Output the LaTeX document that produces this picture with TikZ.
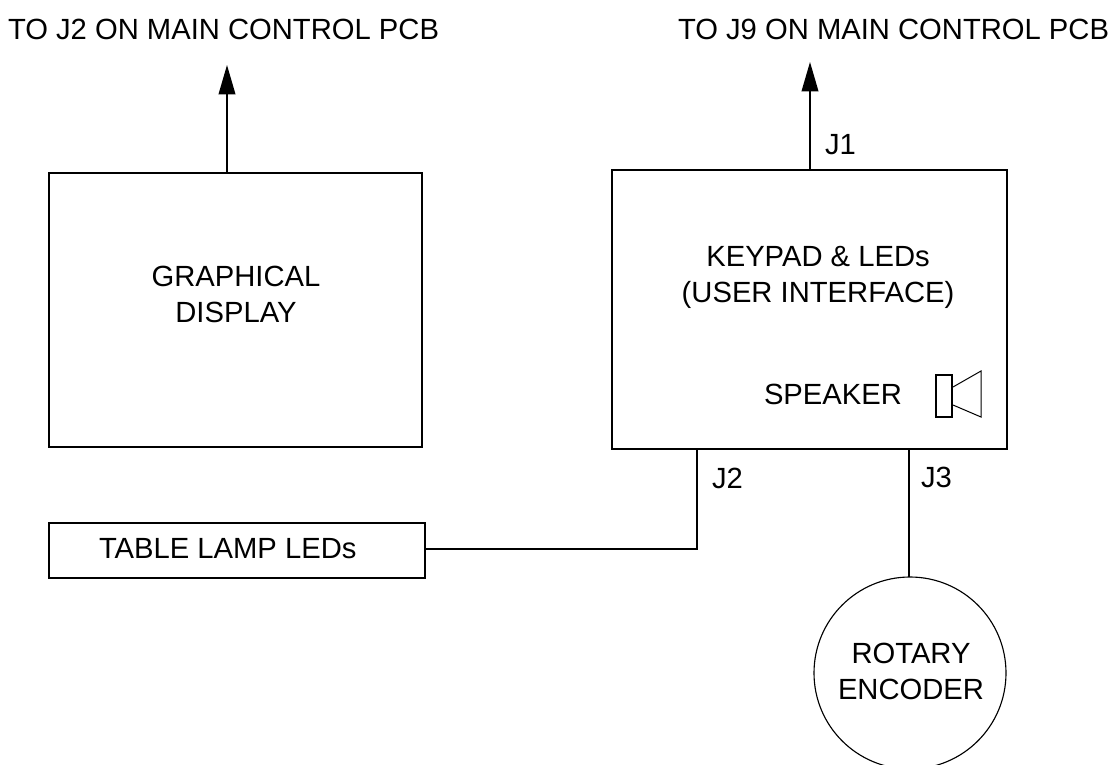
\documentclass[tikz,border=0pt]{standalone}
\usepackage{fontspec}
\setmainfont{Liberation Sans}
\usetikzlibrary{arrows.meta,calc}
\tikzset{
  px/.style={x=0.75pt,y=-0.75pt},
  box/.style={draw=black,line width=1.05pt,rectangle,inner sep=0pt,outer sep=0pt},
  disc/.style={draw=black,line width=0.85pt,circle,inner sep=0pt,outer sep=0pt,minimum size=144pt},
  wire/.style={draw=black,line width=1.2pt},
  lbl/.style={inner sep=0pt,outer sep=0pt,font=\fontsize{21.9pt}{27pt}\selectfont,align=center,text=black},
  arrowwire/.style={wire,-{Triangle[length=22pt,width=12.5pt]}},
  spk/.style={draw=black,line width=0.75pt}
}
\begin{document}
\begin{tikzpicture}[px]
\path[use as bounding box,clip] (0,0) rectangle (1110,764);
\node[box,minimum width=279.75pt,minimum height=205.5pt] (disp) at (235.5,310) {};
\node[box,minimum width=296.25pt,minimum height=209.25pt] (keys) at (809.5,309.5) {};
\node[box,minimum width=282pt,minimum height=41.25pt] (lamp) at (237,550.5) {};
\node[disc] (enc) at (910,673) {};
\coordinate (toa) at (227,65);
\coordinate (tob) at (810,62);
\coordinate (j2t) at (697,449);
\coordinate (j3t) at (909,449);
\coordinate (lout) at (425,549);
\node[lbl,anchor=west] (ta) at (8,29) {TO J2 ON MAIN CONTROL PCB};
\node[lbl,anchor=west] (tb) at (678,29) {TO J9 ON MAIN CONTROL PCB};
\node[lbl] (tdisp) at (236,294) {GRAPHICAL\\DISPLAY};
\node[lbl] (tkeys) at (818,277) {KEYPAD \& LEDs\\(USER INTERFACE)};
\node[lbl,anchor=west] (tspk) at (764,394) {SPEAKER};
\node[lbl,anchor=west] (tlamp) at (99,549) {TABLE LAMP LEDs};
\node[lbl] (tenc) at (911,671) {ROTARY\\ENCODER};
\node[lbl,anchor=west] (j1) at (825,145) {J1};
\node[lbl,anchor=west] (j2) at (712,478) {J2};
\node[lbl,anchor=west] (j3) at (921,477) {J3};
\draw[arrowwire] (disp.north -| toa) -- (toa);
\draw[arrowwire] (keys.north -| tob) -- (tob);
\draw[wire] (lout) -- (lout -| j2t) -- (j2t);
\draw[wire] (j3t) -- (j3t |- enc.north);
\draw[spk,line width=1.05pt] (936,375) rectangle (952,417);
\draw[spk] (953,387) -- (981,371) -- (981,417) -- (953,405);
\end{tikzpicture}
\end{document}
